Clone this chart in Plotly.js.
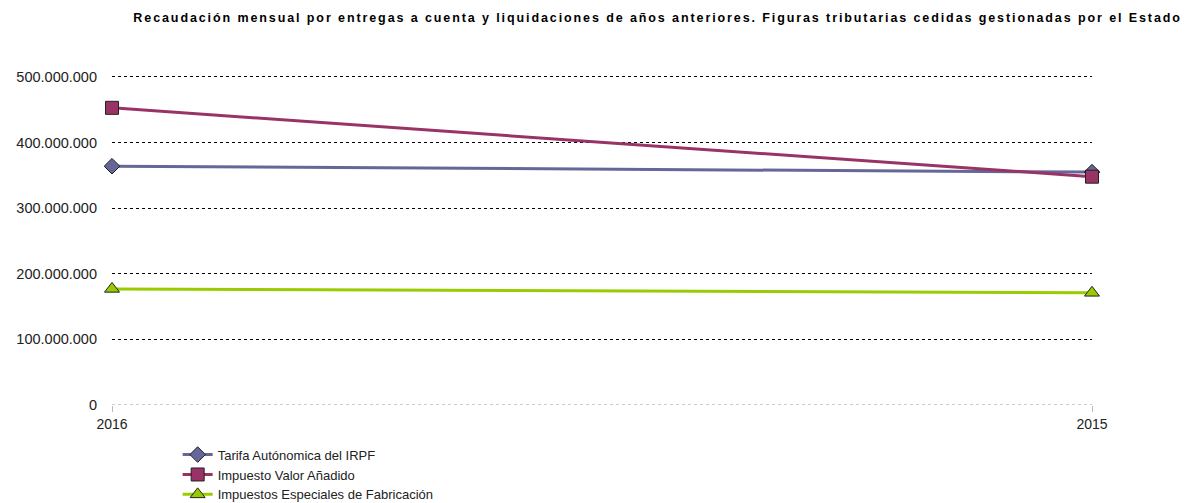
<!DOCTYPE html>
<html>
<head>
<meta charset="utf-8">
<script src="https://cdn.plot.ly/plotly-3.0.1.min.js"></script>
<style>
  html, body { margin: 0; padding: 0; background: #fff; }
  #chart { width: 1187px; height: 503px; }
  .gtitle { letter-spacing: 1.9px; }
</style>
</head>
<body>
<div id="chart"></div>
<script>
const years = ["2016", "2015"];
const irpf = [364000000, 355000000];
const iva = [453000000, 348000000];
const iief = [177000000, 171000000];

const seriesNames = [
	"Tarifa Autónomica del IRPF",
	"Impuesto Valor Añadido",
	"Impuestos Especiales de Fabricación"
];

function makeTrace(values, name, color, symbol, size) {
	return {
		x: years,
		y: values,
		name: name,
		type: "scatter",
		mode: "lines+markers",
		line: { color: color, width: 3 },
		marker: { symbol: symbol, size: size, color: color, line: { color: "#222", width: 1 } },
		cliponaxis: false
	};
}

let traces = [
	makeTrace(irpf, seriesNames[0], "#666699", "diamond", 12),
	makeTrace(iva, seriesNames[1], "#993366", "square", 13),
	makeTrace(iief, seriesNames[2], "#99cc00", "triangle-up", 13)
];

// 0 sits at y=405 and 500.000.000 at y=77, so the top needs a little headroom
let layout = {
	width: 1187,
	height: 503,
	paper_bgcolor: "#fff",
	plot_bgcolor: "#fff",
	separators: ",.",
	font: { family: "Liberation Sans, Arial, sans-serif", size: 14, color: "#222" },
	title: {
		text: "<b>Recaudación mensual por entregas a cuenta y liquidaciones de años anteriores. Figuras tributarias cedidas gestionadas por el Estado</b>",
		font: { size: 12.5, color: "#000" },
		xref: "container",
		x: 0.554,
		xanchor: "center",
		yref: "container",
		y: 0.965,
		yanchor: "middle"
	},
	margin: { l: 112, r: 95, t: 72, b: 98 },
	xaxis: {
		type: "category",
		range: [0, 1],
		showgrid: false,
		zeroline: false,
		ticks: "outside",
		ticklen: 6,
		tickcolor: "#bbb",
		tickfont: { size: 14, color: "#222" }
	},
	yaxis: {
		range: [0, 507600000],
		tickvals: [0, 100000000, 200000000, 300000000, 400000000, 500000000],
		tickformat: ",d",
		showgrid: true,
		gridcolor: "#000",
		griddash: "dot",
		gridwidth: 1,
		zeroline: false,
		showline: false,
		ticklabelstandoff: 14,
		tickfont: { size: 14.5, color: "#222" }
	},
	shapes: [{
		type: "line", xref: "paper", yref: "y",
		x0: 0, x1: 1, y0: 0, y1: 0,
		line: { color: "#999", width: 1, dash: "dot" },
		layer: "above"
	}],
	showlegend: true,
	legend: {
		xref: "paper",
		yref: "container",
		x: 0.067,
		xanchor: "left",
		y: 0.126,
		yanchor: "top",
		orientation: "v",
		font: { size: 13, color: "#222" },
		tracegroupgap: 0,
		itemwidth: 30,
		bgcolor: "rgba(0,0,0,0)"
	}
};

Plotly.newPlot("chart", traces, layout, { displayModeBar: false, responsive: false });
</script>
</body>
</html>
